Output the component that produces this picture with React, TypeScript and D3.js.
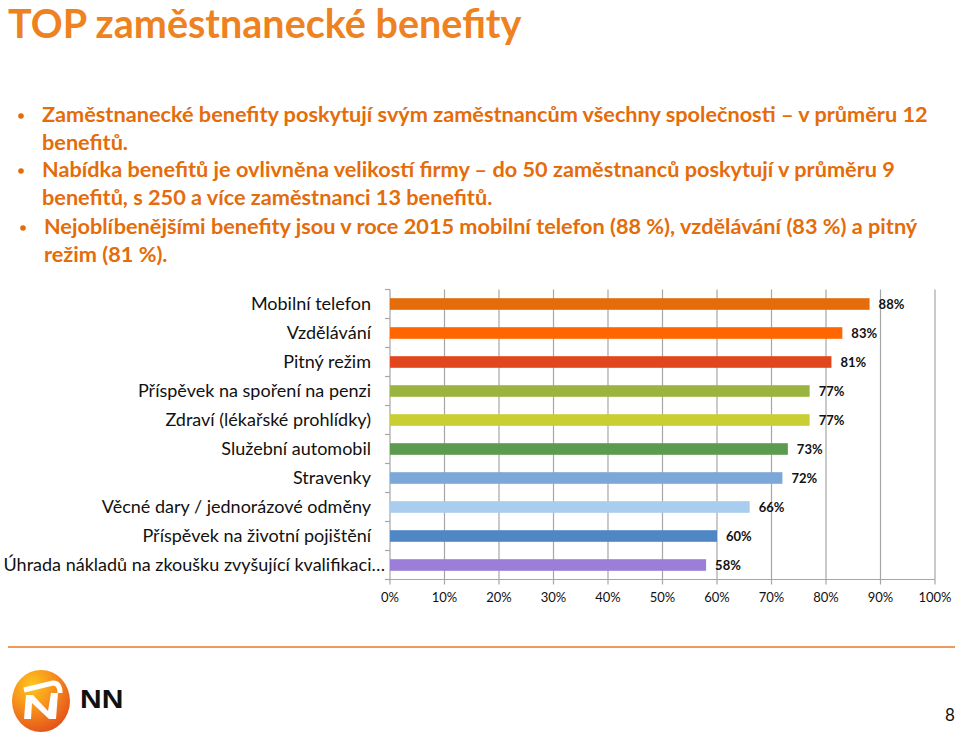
import React from "react";
import * as d3 from "d3";

const categories = [
  "Mobilní telefon",
  "Vzdělávání",
  "Pitný režim",
  "Příspěvek na spoření na penzi",
  "Zdraví (lékařské prohlídky)",
  "Služební automobil",
  "Stravenky",
  "Věcné dary / jednorázové odměny",
  "Příspěvek na životní pojištění",
  "Úhrada nákladů na zkoušku zvyšující kvalifikaci…",
];
const values = [88, 83, 81, 77, 77, 73, 72, 66, 60, 58];
const barColors = [
  "#E46C0A",
  "#FF6600",
  "#E2461C",
  "#9BB33F",
  "#C9CF33",
  "#5C9A4F",
  "#7BA8D8",
  "#A9CDEE",
  "#4F86C4",
  "#9A7ED8",
];
const xTicks = [0, 10, 20, 30, 40, 50, 60, 70, 80, 90, 100];

const title = "TOP zaměstnanecké benefity";
const bullets = [
  [
    "Zaměstnanecké benefity poskytují svým zaměstnancům všechny společnosti – v průměru 12",
    "benefitů.",
  ],
  [
    "Nabídka benefitů je ovlivněna velikostí firmy – do 50 zaměstnanců poskytují v průměru 9",
    "benefitů, s 250 a více zaměstnanci 13 benefitů.",
  ],
  [
    "Nejoblíbenějšími benefity jsou v roce 2015 mobilní telefon (88 %), vzdělávání (83 %) a pitný",
    "režim (81 %).",
  ],
];

const FONT = "Lato, 'Open Sans', sans-serif";

export default function App() {
  const x = d3.scaleLinear().domain([0, 100]).range([390, 935]);
  const y = d3
    .scaleBand<string>()
    .domain(categories)
    .range([289.5, 579.5])
    .paddingInner(0.6)
    .paddingOuter(0.3);
  const band = (y.range()[1] - y.range()[0]) / categories.length;
  const top = y.range()[0];
  const bottom = y.range()[1];

  const bulletBaselines = [
    [122, 150],
    [177, 205],
    [234, 262],
  ];
  const bulletX = [42, 42, 44];
  const dotX = [21, 21, 23];

  return (
    <svg
      width={960}
      height={743}
      style={{ position: "absolute", left: 0, top: 0, display: "block", background: "#fff" }}
    >
      <defs>
        <radialGradient id="nnGrad" cx="35%" cy="25%" r="80%">
          <stop offset="0%" stopColor="#FFC61E" />
          <stop offset="45%" stopColor="#F7941D" />
          <stop offset="100%" stopColor="#E4501A" />
        </radialGradient>
      </defs>
      <text x={8} y={38} fontFamily={FONT} fontWeight={700} fontSize={39.5} fill="#EF8220">
        {title}
      </text>
      {bullets.map((lines, i) => (
        <g key={i}>
          <circle cx={dotX[i]} cy={bulletBaselines[i][0] - 6} r={2.8} fill="#E46C0A" />
          {lines.map((ln, j) => (
            <text
              key={j}
              x={bulletX[i]}
              y={bulletBaselines[i][j]}
              fontFamily={FONT}
              fontWeight={700}
              fontSize={21.7}
              fill="#E46C0A"
            >
              {ln}
            </text>
          ))}
        </g>
      ))}

      {/* gridlines */}
      {xTicks.map((t) => (
        <line key={t} x1={x(t)} x2={x(t)} y1={top} y2={bottom} stroke="#A6A6A6" strokeWidth={1.2} />
      ))}
      {/* x axis */}
      <line x1={x(0)} x2={x(100)} y1={bottom} y2={bottom} stroke="#A6A6A6" strokeWidth={1.2} />
      {xTicks.map((t) => (
        <line key={"xt" + t} x1={x(t)} x2={x(t)} y1={bottom} y2={bottom + 5} stroke="#A6A6A6" strokeWidth={1.2} />
      ))}
      {xTicks.map((t) => (
        <text key={"xl" + t} x={x(t)} y={602} textAnchor="middle" fontFamily={FONT} fontSize={13} fill="#111">
          {t}%
        </text>
      ))}
      {/* y ticks */}
      {d3.range(categories.length + 1).map((i) => (
        <line
          key={"yt" + i}
          x1={x(0) - 5}
          x2={x(0)}
          y1={top + i * band}
          y2={top + i * band}
          stroke="#A6A6A6"
          strokeWidth={1.2}
        />
      ))}
      {/* bars */}
      {categories.map((c, i) => {
        const yc = (y(c) as number) + y.bandwidth() / 2;
        return (
          <g key={c}>
            <rect
              x={x(0)}
              y={y(c) as number}
              width={x(values[i]) - x(0)}
              height={y.bandwidth()}
              fill={barColors[i]}
            />
            <text
              x={x(values[i]) + 9}
              y={yc + 5}
              fontFamily={FONT}
              fontWeight={700}
              fontSize={13}
              fill="#111"
            >
              {values[i]}%
            </text>
            <text
              x={i === categories.length - 1 ? 385 : 371}
              y={yc + 6}
              textAnchor="end"
              fontFamily={FONT}
              fontSize={18}
              fill="#111"
            >
              {c}
            </text>
          </g>
        );
      })}

      {/* footer */}
      <line x1={8} x2={955} y1={647} y2={647} stroke="#EE9A5F" strokeWidth={2} />
      <ellipse cx={41} cy={701} rx={29} ry={31} fill="url(#nnGrad)" />
      <polygon
        points="24,719 26,695 33,695 48,711 51,693 58,693 56,719 49,719 32,703 31,719"
        fill="#fff"
      />
      <path d="M24,690 L53,683 Q60,683 60,693" fill="none" stroke="#fff" strokeWidth={5} />
      <text x={80} y={708} fontFamily="'Liberation Sans', Arial, sans-serif" fontWeight={700} fontSize={25} fill="#111" transform="translate(80,0) scale(1.2,1) translate(-80,0)">
        NN
      </text>
      <text x={950} y={721} textAnchor="middle" fontFamily={FONT} fontSize={17} fill="#111">
        8
      </text>
    </svg>
  );
}
